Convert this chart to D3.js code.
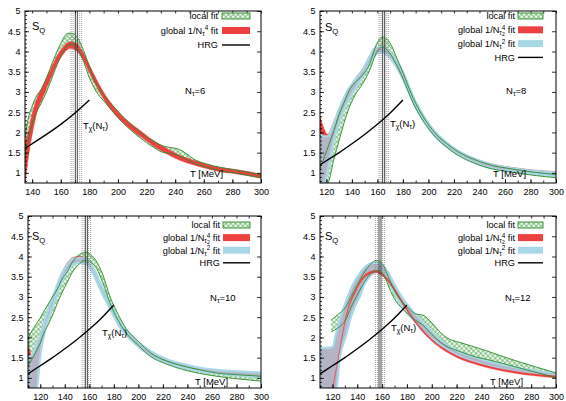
<!DOCTYPE html>
<html><head><meta charset="utf-8">
<script src="https://cdn.jsdelivr.net/npm/d3@7/dist/d3.min.js"></script>
<style>body{margin:0;background:#fff}svg{display:block}text{font-family:"Liberation Sans",Arial,Helvetica,sans-serif;fill:#000}</style>
</head><body>
<svg id="c" width="566" height="401"></svg>
<script>
// ---------------- DATA ----------------
// each band row: [T (MeV), lower S_Q, upper S_Q]
const nTau = [6, 8, 10, 12];
const xMin = [135, 115, 110, 110];
const xMax = 300;
const yTicks = [1, 1.5, 2, 2.5, 3, 3.5, 4, 4.5, 5];
const tchi = [170.9, 164.9, 157.6, 158.3];
const tchiErr = [3.0, 2.8, 2.6, 2.7];
const hrgT = [105, 110, 120, 130, 140, 150, 160, 170, 180];
const hrgS = [1.0, 1.1, 1.3, 1.5, 1.72, 1.95, 2.2, 2.48, 2.8];

const p1Local = [[135,1.35,1.88],[137,1.75,2.3],[140,2.2,2.65],[143,2.5,2.9],[146,2.7,3.05],[150,3.0,3.35],[155,3.45,3.8],[160,3.88,4.2],[165,4.15,4.45],[168,4.18,4.45],[172,4.05,4.32],[176,3.75,4.02],[180,3.35,3.62],[185,3.0,3.2],[190,2.78,2.93],[198,2.45,2.6],[206,2.15,2.3],[215,1.88,2.02],[225,1.63,1.78],[232,1.5,1.66],[238,1.48,1.62],[243,1.42,1.58],[248,1.33,1.47],[253,1.24,1.34],[262,1.14,1.22],[271,1.06,1.14],[281,1.0,1.08],[300,0.88,0.95]];
const p1Global4 = [[135,0.7,1.75],[137,1.3,1.95],[140,1.95,2.45],[143,2.45,2.8],[148,2.92,3.18],[152.5,3.3,3.52],[157,3.66,3.86],[162,3.95,4.12],[166.5,4.08,4.24],[171,4.02,4.2],[175.8,3.78,3.96],[182.8,3.28,3.46],[189.8,2.84,3.0],[197.9,2.44,2.6],[206.1,2.16,2.3],[215.4,1.91,2.05],[224.7,1.67,1.8],[234.1,1.47,1.6],[243.4,1.31,1.43],[252.7,1.2,1.31],[262,1.11,1.21],[271.3,1.03,1.13],[280.6,0.99,1.09],[300,0.87,0.97]];

const p2Local = [[115,0.3,1.1],[118,0.6,1.35],[122,0.8,1.7],[126,1.35,2.05],[130,1.8,2.45],[134,2.25,2.75],[138,2.62,3.05],[143,2.95,3.25],[148,3.18,3.4],[154,3.54,3.7],[159,3.95,4.16],[164,4.11,4.36],[169,3.99,4.25],[177,3.54,3.7],[190,2.6,2.72],[203,1.98,2.07],[217,1.57,1.66],[243,1.16,1.25],[269,1.0,1.08],[300,0.88,0.96]];
const p2Global4 = [[115,1.5,2.4],[118,1.3,2.1],[121,1.4,1.95],[125,1.85,2.2],[130,2.3,2.6],[137,2.82,3.05],[143,3.12,3.35],[149,3.4,3.6],[154,3.72,3.9],[159,3.97,4.12],[164,4.0,4.14],[170,3.85,4.0],[177,3.52,3.7],[190,2.62,2.76],[203,2.0,2.1],[217,1.6,1.69],[243,1.2,1.28],[269,1.05,1.12],[300,0.96,1.03]];
const p2Global2 = [[115,0.7,1.95],[118,0.7,1.9],[121,1.05,1.9],[125,1.7,2.15],[130,2.25,2.58],[137,2.78,3.05],[143,3.1,3.32],[149,3.4,3.58],[154,3.7,3.88],[159,3.93,4.1],[164,3.98,4.12],[170,3.83,3.98],[177,3.5,3.68],[190,2.62,2.76],[203,1.98,2.1],[217,1.58,1.68],[243,1.17,1.27],[269,1.02,1.1],[300,0.93,1.01]];

const p3Local = [[110,1.3,1.98],[113,1.45,2.15],[116,1.62,2.3],[120,1.86,2.48],[123,2.1,2.65],[127,2.35,2.85],[131,2.62,3.05],[134,2.85,3.2],[138,3.12,3.45],[142,3.36,3.62],[146,3.6,3.85],[150,3.76,4.0],[154,3.87,4.08],[157,3.91,4.11],[161,3.86,4.05],[166,3.7,3.87],[171,3.35,3.55],[177,2.84,3.0],[183,2.45,2.6],[190,2.11,2.22],[200,1.8,1.9],[210,1.53,1.62],[223,1.34,1.42],[237,1.2,1.29],[250,1.11,1.2],[264,1.04,1.12],[280,0.98,1.08],[300,0.92,1.04]];
const p3Global4 = [[110,0.7,1.78],[114,0.7,1.55],[117,1.3,1.75],[120,1.75,2.0],[125,2.3,2.5],[131,2.85,3.02],[136,3.33,3.48],[141.5,3.68,3.82],[147,3.88,3.98],[152,3.92,4.0],[157,3.85,3.95],[163,3.6,3.72],[169,3.23,3.35],[177,2.7,2.8],[185,2.25,2.35],[196,1.88,1.97],[209.5,1.56,1.64],[223,1.36,1.43],[237,1.25,1.31],[250,1.16,1.22],[264,1.11,1.16],[277.5,1.07,1.12],[300,1.01,1.06]];
const p3Global2 = [[110,0.7,1.5],[114,0.7,1.6],[117,0.7,1.85],[120,1.55,2.05],[125,2.3,2.55],[130.7,2.8,3.03],[136.1,3.28,3.48],[141.5,3.6,3.78],[147,3.8,3.95],[152.4,3.84,3.96],[157.9,3.8,3.93],[163.3,3.56,3.72],[168.7,3.2,3.36],[176.9,2.7,2.84],[185,2.25,2.38],[195.9,1.88,2.0],[209.5,1.55,1.67],[223.1,1.36,1.46],[236.7,1.25,1.34],[250.3,1.16,1.25],[263.9,1.11,1.2],[277.5,1.07,1.17],[300,1.02,1.13]];

const p4Local = [[119,2.14,2.43],[125,2.25,2.58],[130,2.4,2.72],[135,2.75,3.0],[140,3.05,3.3],[146,3.38,3.62],[151,3.58,3.82],[155,3.65,3.9],[158,3.65,3.88],[162,3.5,3.72],[166,3.2,3.42],[170,2.95,3.15],[176,2.72,2.88],[182,2.55,2.7],[187,2.42,2.58],[193,2.3,2.55],[200,2.08,2.36],[207,1.88,2.12],[214,1.75,1.96],[222,1.66,1.88],[235,1.52,1.76],[245,1.45,1.66],[258,1.35,1.52],[270,1.25,1.4],[285,1.13,1.26],[300,1.0,1.12]];
const p4Global4 = [[119,0.3,0.36],[120.5,0.72,0.78],[123,1.17,1.23],[126,1.68,1.74],[131,2.49,2.55],[139,3.14,3.2],[147,3.51,3.57],[155,3.6,3.66],[161,3.5,3.56],[169,3.2,3.26],[177,2.8,2.86],[187.5,2.33,2.38],[201,1.88,1.93],[214,1.6,1.65],[241,1.28,1.33],[268,1.11,1.16],[300,1.0,1.05]];
const p4Global2 = [[110,0.7,1.75],[115,0.7,1.74],[120,0.7,1.76],[123,0.7,2.1],[126,1.5,2.45],[131,2.05,2.9],[136,2.6,3.28],[142,3.01,3.58],[147,3.38,3.76],[152,3.56,3.84],[156,3.62,3.85],[160,3.58,3.8],[165,3.38,3.6],[170,3.1,3.3],[177,2.72,2.95],[180,2.6,2.82],[187,2.37,2.57],[193,2.14,2.37],[201,1.94,2.11],[214,1.66,1.78],[241,1.33,1.45],[268,1.16,1.25],[300,1.04,1.12]];

const localFits = [p1Local, p2Local, p3Local, p4Local];
const global4Fits = [p1Global4, p2Global4, p3Global4, p4Global4];
const global2Fits = [null, p2Global2, p3Global2, p4Global2];

// ---------------- STYLE / LAYOUT ----------------
const RED = '#ef4040', LBLUE = '#a8d8e8', GRAYB = '#b4b4c6', GREEN = '#2a8a2a', HATCH = '#48a448';
const FONT = '"Liberation Sans", Arial, Helvetica, sans-serif';
const frames = [
  {x0:25, x1:261, y0:11, y1:183, xpad:6, ylab:4.5, redTop:false},
  {x0:320, x1:556, y0:11, y1:183, xpad:6, ylab:4.5, redTop:false},
  {x0:28, x1:261, y0:216, y1:388, xpad:5.5, ylab:4.5, redTop:false},
  {x0:320, x1:556, y0:216, y1:388, xpad:5.5, ylab:4.5, redTop:true}
];
const legends = [
  {tr:218, s0:222, s1:250, y0:16, dy:14.5},
  {tr:515, s0:518, s1:543, y0:16, dy:13.8},
  {tr:220, s0:223, s1:250, y0:225, dy:12.6},
  {tr:515, s0:518, s1:543, y0:225, dy:12.6}
];
const labelPos = [
  {sq:[32,30], nt:[185,93.5], tc:[83,128.5], tm:[190,177]},
  {sq:[325,31], nt:[506,93.5], tc:[390,126.5], tm:[493,177]},
  {sq:[32,240], nt:[210,300.5], tc:[102,335.5], tm:[195,385]},
  {sq:[325,240], nt:[505,300.5], tc:[391,330.5], tm:[490,385]}
];

const svg = d3.select('#c');
const defs = svg.append('defs');
const pat = defs.append('pattern').attr('id','hatch').attr('patternUnits','userSpaceOnUse')
  .attr('width',3.4).attr('height',3.4).attr('patternTransform','rotate(45)');
pat.append('rect').attr('width',3.4).attr('height',3.4).attr('fill','#fff');
pat.append('path').attr('d','M0,1.7H3.4M1.7,0V3.4').attr('stroke',HATCH).attr('stroke-width',0.7);

function rich(g, x, y, segs, fs, anchor){
  const t = g.append('text').attr('x',x).attr('y',y).attr('font-size',fs)
    .attr('text-anchor',anchor||'start').attr('font-family',FONT);
  let cur = 0;
  segs.forEach(s => {
    const [str, lvl, dx, scale] = s;
    const sp = t.append('tspan').attr('dy', lvl - cur)
      .attr('font-size', scale ? fs*scale : (lvl !== 0 ? fs*0.7 : fs)).text(str);
    if (dx) sp.attr('dx', dx);
    cur = lvl;
  });
  return t;
}

function drawPanel(i){
  const F = frames[i];
  const x = d3.scaleLinear().domain([xMin[i], xMax]).range([F.x0, F.x1]);
  const y = d3.scaleLinear().domain([0.75, 5]).range([F.y1, F.y0]);
  const g = svg.append('g');
  defs.append('clipPath').attr('id','clip'+i).append('rect')
    .attr('x',F.x0).attr('y',F.y0).attr('width',F.x1-F.x0).attr('height',F.y1-F.y0);
  const pl = g.append('g').attr('clip-path',`url(#clip${i})`);
  const area = d3.area().x(d=>x(d[0])).y0(d=>y(d[1])).y1(d=>y(d[2])).curve(d3.curveMonotoneX);
  const lineLo = d3.line().x(d=>x(d[0])).y(d=>y(d[1])).curve(d3.curveMonotoneX);
  const lineHi = d3.line().x(d=>x(d[0])).y(d=>y(d[2])).curve(d3.curveMonotoneX);

  pl.append('path').attr('d', area(localFits[i])).attr('fill','url(#hatch)');
  const drawRed = () => pl.append('path').attr('d', area(global4Fits[i])).attr('fill',RED)
    .attr('stroke',RED).attr('stroke-width',F.redTop ? 0.3 : 0.6);
  if (!F.redTop) drawRed();
  if (global2Fits[i]) {
    pl.append('path').attr('d', area(global2Fits[i])).attr('fill',GRAYB)
      .attr('stroke',LBLUE).attr('stroke-width',2.2);
  }
  if (F.redTop) drawRed();
  // T_chi vertical lines
  [[tchi[i], false], [tchi[i]-tchiErr[i], true], [tchi[i]+tchiErr[i], true]].forEach(([t, dotted]) => {
    [-1, 1].forEach(off => {
      const ln = pl.append('line').attr('x1', x(t)+off).attr('x2', x(t)+off)
        .attr('y1', F.y0).attr('y2', F.y1)
        .attr('stroke', dotted ? '#777' : '#333').attr('stroke-width', dotted ? 0.7 : 0.9);
      if (dotted) ln.attr('stroke-dasharray','1,1');
    });
  });
  pl.append('path').attr('d', lineLo(localFits[i])).attr('fill','none').attr('stroke',GREEN).attr('stroke-width',0.9);
  pl.append('path').attr('d', lineHi(localFits[i])).attr('fill','none').attr('stroke',GREEN).attr('stroke-width',0.9);
  // HRG
  const hrg = hrgT.map((t,k)=>[t, hrgS[k]]);
  pl.append('path').attr('d', d3.line().x(d=>x(d[0])).y(d=>y(d[1])).curve(d3.curveMonotoneX)(hrg))
    .attr('fill','none').attr('stroke','#000').attr('stroke-width',1.4);

  // axes
  const xMajor = d3.range(Math.ceil(xMin[i]/20)*20, xMax+1, 20);
  const xMinor = d3.range(Math.ceil(xMin[i]/10)*10, xMax+1, 10);
  const yMinor = d3.range(8, 51).map(k => k/10);
  const style = s => { s.select('.domain').remove();
    s.selectAll('line').attr('stroke','#000').attr('stroke-width',0.8);
    s.selectAll('text').attr('font-size',9).attr('font-family',FONT).attr('fill','#000'); };
  g.append('g').attr('transform',`translate(0,${F.y1})`)
    .call(d3.axisBottom(x).tickValues(xMajor).tickSize(-4).tickPadding(F.xpad)).call(style);
  g.append('g').attr('transform',`translate(0,${F.y1})`)
    .call(d3.axisBottom(x).tickValues(xMinor).tickSize(-2.5).tickFormat('')).call(style);
  g.append('g').attr('transform',`translate(0,${F.y0})`)
    .call(d3.axisTop(x).tickValues(xMinor).tickSize(-2.5).tickFormat('')).call(style);
  g.append('g').attr('transform',`translate(${F.x0},0)`)
    .call(d3.axisLeft(y).tickValues(yTicks).tickSize(-4).tickPadding(F.ylab).tickFormat(d=>String(d))).call(style);
  g.append('g').attr('transform',`translate(${F.x0},0)`)
    .call(d3.axisLeft(y).tickValues(yMinor).tickSize(-2).tickFormat('')).call(style);
  g.append('g').attr('transform',`translate(${F.x1},0)`)
    .call(d3.axisRight(y).tickValues(yTicks).tickSize(-4).tickFormat('')).call(style);
  g.append('rect').attr('x',F.x0).attr('y',F.y0).attr('width',F.x1-F.x0).attr('height',F.y1-F.y0)
    .attr('fill','none').attr('stroke','#000').attr('stroke-width',1);

  // legend
  const L = legends[i];
  const rows = global2Fits[i] ? ['local','g4','g2','hrg'] : ['local','g4','hrg'];
  const fsL = 9.2;
  rows.forEach((r, k) => {
    const cy = L.y0 + k*L.dy;
    const by = cy + 3.3;
    if (r === 'local') {
      rich(g, L.tr, by, [['local fit',0]], fsL, 'end');
      g.append('rect').attr('x',L.s0).attr('y',cy-3).attr('width',L.s1-L.s0).attr('height',6)
        .attr('fill','url(#hatch)').attr('stroke',GREEN).attr('stroke-width',0.9);
    } else if (r === 'g4') {
      const segs = i === 0
        ? [['global 1/N',0],['τ',2],['4',-3.5],[' fit',0]]
        : [['global 1/N',0],['τ',1.8],['2',2.6,0,0.55],['4',-3.4,-3,0.7],[' fit',0]];
      rich(g, L.tr, by, segs, fsL, 'end');
      g.append('rect').attr('x',L.s0).attr('y',cy-3.5).attr('width',L.s1-L.s0).attr('height',7).attr('fill',RED);
    } else if (r === 'g2') {
      rich(g, L.tr, by, [['global 1/N',0],['τ',2],['2',-3.2],[' fit',0]], fsL, 'end');
      g.append('rect').attr('x',L.s0).attr('y',cy-3.5).attr('width',L.s1-L.s0).attr('height',7).attr('fill',LBLUE);
    } else {
      rich(g, L.tr, by, [['HRG',0]], fsL, 'end');
      g.append('line').attr('x1',L.s0).attr('x2',L.s1).attr('y1',cy).attr('y2',cy)
        .attr('stroke','#000').attr('stroke-width',1.4);
    }
  });

  const P = labelPos[i];
  rich(g, P.sq[0], P.sq[1], [['S',0],['Q',3]], 11);
  rich(g, P.nt[0], P.nt[1], [['N',0],['τ',2.5],['='+nTau[i],0]], 9.5);
  rich(g, P.tc[0], P.tc[1], [['T',0],['χ',2.5],['(N',0],['τ',2.5],[')',0]], 9.5);
  rich(g, P.tm[0], P.tm[1], [['T [MeV]',0]], 9.5);
}
[0,1,2,3].forEach(drawPanel);
</script>
</body></html>
